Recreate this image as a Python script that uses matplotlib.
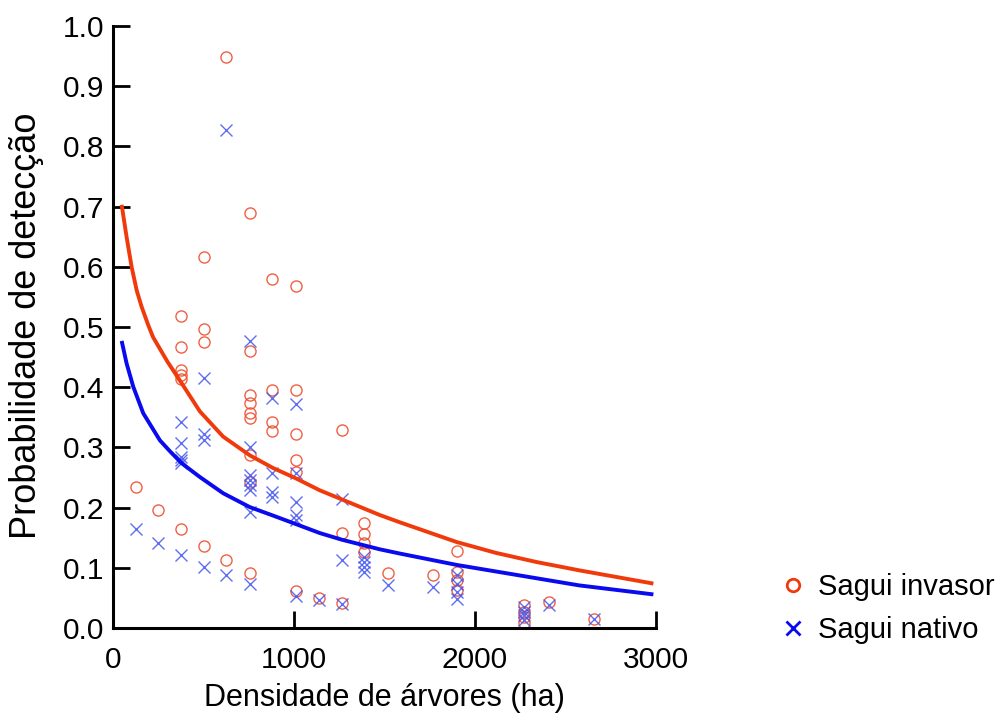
import matplotlib
matplotlib.use("Agg")
import matplotlib.pyplot as plt
from matplotlib.lines import Line2D

plt.rcParams['font.family'] = ['Liberation Sans', 'DejaVu Sans']

# ---- data ----
inv_x = [125, 250,
         377, 377, 377, 377, 377, 377,
         502, 502, 502, 502,
         627, 627,
         756, 756, 756, 756, 756, 756, 756, 756, 756,
         881, 881, 881, 881,
         1009, 1009, 1009, 1009, 1009, 1009,
         1136,
         1263, 1263, 1263,
         1388, 1388, 1388, 1388,
         1517, 1771,
         1899, 1899, 1899, 1899,
         2272, 2272, 2272, 2272,
         2407, 2659]
inv_y = [0.235, 0.197,
         0.519, 0.467, 0.429, 0.420, 0.413, 0.164,
         0.617, 0.496, 0.476, 0.136,
         0.949, 0.113,
         0.689, 0.461, 0.387, 0.374, 0.357, 0.349, 0.287, 0.242, 0.092,
         0.579, 0.395, 0.343, 0.328,
         0.568, 0.395, 0.322, 0.279, 0.260, 0.062,
         0.050,
         0.329, 0.158, 0.042,
         0.175, 0.157, 0.141, 0.127,
         0.091, 0.088,
         0.128, 0.094, 0.080, 0.063,
         0.038, 0.027, 0.019, 0.008,
         0.044, 0.016]

nat_x = [125, 250,
         377, 377, 377, 377, 377, 377,
         502, 502, 502, 502,
         627, 627,
         756, 756, 756, 756, 756, 756, 756, 756,
         881, 881, 881, 881,
         1009, 1009, 1009, 1009, 1009, 1009,
         1136,
         1263, 1263, 1263,
         1388, 1388, 1388, 1388,
         1517, 1771,
         1899, 1899, 1899, 1899,
         2272, 2272, 2272, 2272,
         2407, 2659]
nat_y = [0.164, 0.141,
         0.343, 0.307, 0.285, 0.279, 0.274, 0.121,
         0.416, 0.323, 0.312, 0.102,
         0.828, 0.088,
         0.477, 0.301, 0.254, 0.246, 0.238, 0.229, 0.193, 0.074,
         0.382, 0.257, 0.226, 0.218,
         0.372, 0.257, 0.210, 0.188, 0.179, 0.053,
         0.046,
         0.214, 0.113, 0.040,
         0.118, 0.110, 0.102, 0.094,
         0.071, 0.068,
         0.088, 0.074, 0.060, 0.049,
         0.035, 0.027, 0.022, 0.014,
         0.038, 0.016]

# fitted curves (read points)
inv_curve_x = [48, 75, 103, 131, 158, 195, 222, 300, 379, 480, 609, 756, 884, 1009,
               1142, 1263, 1473, 1583, 1899, 2116, 2337, 2576, 2986]
inv_curve_y = [0.703, 0.650, 0.600, 0.561, 0.534, 0.503, 0.483, 0.443, 0.407, 0.360,
               0.318, 0.287, 0.266, 0.249, 0.229, 0.214, 0.188, 0.176, 0.143, 0.125,
               0.110, 0.096, 0.074]
nat_curve_x = [48, 75, 112, 167, 259, 314, 379, 480, 609, 756, 884, 1009, 1142, 1263,
               1473, 1583, 1899, 2337, 2576, 2986]
nat_curve_y = [0.477, 0.440, 0.401, 0.357, 0.312, 0.294, 0.274, 0.251, 0.224, 0.201,
               0.187, 0.173, 0.158, 0.147, 0.131, 0.124, 0.105, 0.083, 0.071, 0.056]

x_ticks = [0, 1000, 2000, 3000]
y_ticks = [0.0, 0.1, 0.2, 0.3, 0.4, 0.5, 0.6, 0.7, 0.8, 0.9, 1.0]
series_labels = ["Sagui invasor", "Sagui nativo"]

RED_LINE = '#F03A0C'
RED_MK = '#EE5030'
BLUE_LINE = '#0A0AEE'
BLUE_MK = '#4455EE'

fig = plt.figure(figsize=(10.06, 7.22), dpi=100)
ax = fig.add_axes([0.1123, 0.130, 0.5397, 0.834])

ax.plot(inv_x, inv_y, linestyle='none', marker='o', markersize=8,
        markerfacecolor='none', markeredgecolor=RED_MK, markeredgewidth=1.0, alpha=0.9)
ax.plot(nat_x, nat_y, linestyle='none', marker='x', markersize=9,
        markeredgecolor=BLUE_MK, markeredgewidth=1.0, alpha=0.85)
ax.plot(inv_curve_x, inv_curve_y, color=RED_LINE, lw=2.8, solid_capstyle='butt',
        solid_joinstyle='round')
ax.plot(nat_curve_x, nat_curve_y, color=BLUE_LINE, lw=2.8, solid_capstyle='butt',
        solid_joinstyle='round')

ax.set_xlim(0, 3000)
ax.set_ylim(0, 1.0)
ax.set_xticks(x_ticks)
ax.set_yticks(y_ticks)
ax.set_xticklabels([str(t) for t in x_ticks])
ax.set_yticklabels([f"{t:.1f}" for t in y_ticks])

for s in ['top', 'right']:
    ax.spines[s].set_visible(False)
for s in ['left', 'bottom']:
    ax.spines[s].set_linewidth(2.2)
    ax.spines[s].set_color('black')

ax.tick_params(axis='both', direction='in', length=12, width=2.0, labelsize=21.5,
               colors='black')
ax.tick_params(axis='y', pad=6)
ax.tick_params(axis='x', pad=13)

ax.set_xlabel("Densidade de árvores (ha)", fontsize=22, labelpad=6)
ax.set_ylabel("Probabilidade de detecção", fontsize=26)
ax.yaxis.set_label_coords(-0.127, 0.503)

handles = [Line2D([], [], linestyle='none', marker='o', markersize=9,
                  markerfacecolor='none', markeredgecolor=RED_LINE, markeredgewidth=2.0),
           Line2D([], [], linestyle='none', marker='x', markersize=10,
                  markeredgecolor=BLUE_LINE, markeredgewidth=2.0)]
fig.legend(handles, series_labels, loc='center left',
           bbox_to_anchor=(0.762, 0.157), frameon=False, fontsize=21,
           handlelength=1.0, handletextpad=0.35, labelspacing=0.5, borderaxespad=0)

fig.savefig("out.png", dpi=100)
